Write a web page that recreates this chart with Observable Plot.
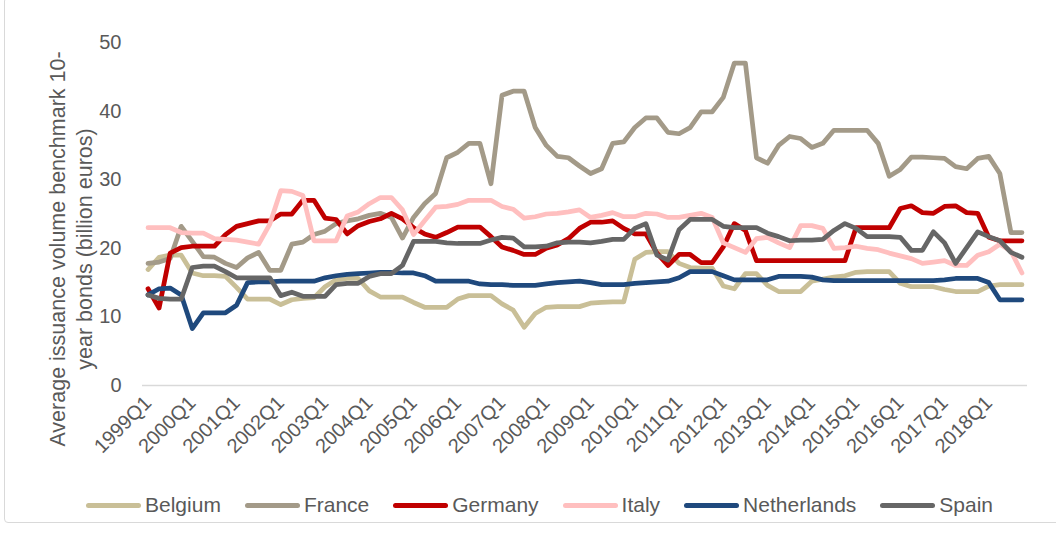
<!DOCTYPE html>
<html><head><meta charset="utf-8">
<script src="https://cdn.jsdelivr.net/npm/d3@7"></script>
<script src="https://cdn.jsdelivr.net/npm/@observablehq/plot@0.6"></script>
<style>
body{margin:0;background:#fff;font-family:"Liberation Sans",Arial,sans-serif;}
#wrap{position:relative;width:1056px;height:534px;overflow:hidden;background:#fff;}
#frame{position:absolute;left:4px;top:-3px;width:1062px;height:526px;border:1px solid #d9d9d9;border-radius:4px;box-sizing:border-box;pointer-events:none}
#legend{position:absolute;left:86px;top:492px;height:26px;display:flex;align-items:center;font-size:21px;color:#595959;white-space:nowrap}
.item{display:flex;align-items:center;margin-right:24px}
.sw{width:55px;height:5px;border-radius:3px;margin-right:4px}
</style></head><body>
<div id="wrap"><div id="chart"></div><div id="legend"></div><div id="frame"></div></div>
<script>
const countries = ["Belgium", "France", "Germany", "Italy", "Netherlands", "Spain"];
const colors = ["#c9bf97", "#a39a88", "#c00000", "#ffbfbf", "#1f497d", "#666666"];
const yTitle = "Average issuance volume benchmark 10-\nyear bonds (billion euros)";
const yTicks = [0, 10, 20, 30, 40, 50];

const belgium = [16.9,18.7,19.0,19.0,16.4,16.0,16.0,15.9,14.3,12.6,12.6,12.6,11.8,12.5,12.7,12.8,14.4,15.4,15.6,15.6,13.8,12.9,12.9,12.9,12.1,11.4,11.4,11.4,12.6,13.1,13.1,13.1,11.9,11.0,8.5,10.5,11.4,11.5,11.5,11.5,12.0,12.1,12.2,12.2,18.4,19.4,19.5,19.5,17.8,17.2,17.1,17.1,14.5,14.1,16.3,16.3,14.6,13.7,13.7,13.7,15.2,15.5,15.8,16.0,16.5,16.6,16.6,16.6,14.9,14.4,14.4,14.4,14.0,13.7,13.7,13.7,14.5,14.7,14.7,14.7];
const france = [17.8,18.0,18.5,23.2,21.0,18.8,18.7,17.8,17.2,18.6,19.4,16.8,16.8,20.6,20.9,22.0,22.5,23.6,24.0,24.3,24.8,25.1,24.5,21.5,24.5,26.5,28.0,33.2,34.0,35.3,35.3,29.4,42.3,42.9,42.9,37.6,35.0,33.4,33.2,32.0,30.9,31.6,35.3,35.5,37.6,39.0,39.0,36.9,36.7,37.6,39.9,39.9,42.0,47.0,47.0,33.2,32.4,35.0,36.3,36.0,34.7,35.3,37.2,37.2,37.2,37.2,35.3,30.5,31.5,33.3,33.3,33.2,33.1,31.9,31.6,33.1,33.4,30.9,22.3,22.3];
const germany = [14.1,11.3,19.3,20.1,20.3,20.3,20.3,22.0,23.2,23.6,24.0,24.0,25.0,25.0,27.0,27.0,24.4,24.2,22.1,23.3,23.9,24.3,25.1,24.3,23.0,22.1,21.6,22.3,23.1,23.1,23.1,21.7,20.2,19.7,19.1,19.1,20.0,20.5,21.4,22.9,23.8,23.8,24.0,22.9,22.1,22.1,19.3,17.5,19.1,19.1,17.9,17.9,20.2,23.6,22.6,18.2,18.2,18.2,18.2,18.2,18.2,18.2,18.2,18.2,23.0,23.0,23.0,23.0,25.8,26.2,25.2,25.1,26.1,26.2,25.2,25.1,21.6,21.1,21.1,21.1];
const italy = [23.0,23.0,23.0,22.3,22.2,22.2,21.4,21.3,21.2,20.9,20.6,23.5,28.4,28.3,27.7,21.1,21.1,21.1,24.7,25.3,26.5,27.4,27.4,25.6,22.0,24.0,26.0,26.1,26.4,27.0,27.0,27.0,26.1,25.7,24.4,24.6,25.0,25.1,25.3,25.6,24.5,24.8,25.2,24.6,24.6,25.1,25.0,24.5,24.5,24.8,25.1,24.5,20.8,20.1,19.4,21.4,21.6,20.8,20.1,23.3,23.3,22.9,20.0,20.1,20.3,20.0,19.8,19.3,18.9,18.5,17.8,18.0,18.2,17.5,17.5,19.0,19.5,20.6,19.6,16.4];
const netherlands = [13.2,14.1,14.2,13.2,8.3,10.6,10.6,10.6,11.7,15.0,15.1,15.1,15.2,15.2,15.2,15.2,15.7,16.0,16.2,16.3,16.4,16.5,16.5,16.4,16.4,16.0,15.2,15.2,15.2,15.2,14.8,14.7,14.7,14.6,14.6,14.6,14.8,15.0,15.1,15.2,15.0,14.7,14.7,14.7,14.9,15.0,15.1,15.2,15.7,16.6,16.6,16.6,16.0,15.4,15.4,15.4,15.4,15.9,15.9,15.9,15.8,15.4,15.3,15.3,15.3,15.3,15.3,15.3,15.3,15.3,15.3,15.3,15.4,15.6,15.6,15.6,15.0,12.5,12.5,12.5];
const spain = [13.2,12.7,12.6,12.6,17.2,17.4,17.4,16.6,15.7,15.7,15.7,15.7,13.1,13.6,13.0,13.0,13.0,14.7,14.9,14.9,15.9,16.3,16.3,17.5,21.0,21.0,21.0,20.8,20.7,20.7,20.7,21.2,21.6,21.5,20.2,20.2,20.3,20.8,20.9,20.9,20.8,21.0,21.3,21.3,22.9,23.6,19.0,18.3,22.7,24.2,24.2,24.2,23.2,23.0,23.0,23.0,22.2,21.7,21.1,21.2,21.2,21.3,22.6,23.6,22.9,21.7,21.7,21.7,21.6,19.7,19.7,22.4,20.8,17.8,20.1,22.4,21.7,21.1,19.4,18.7];

const years = d3.range(1999, 2019);
const quarters = years.flatMap(y => [1, 2, 3, 4].map(q => `${y}Q${q}`));
const tickLabels = years.map(y => `${y}Q1`);

const seriesList = [belgium, france, germany, italy, netherlands, spain];
const data = countries.flatMap((c, k) => seriesList[k].map((v, i) => ({country: c, i, quarter: quarters[i], value: v})));

const chart = Plot.plot({
  width: 1056,
  height: 470,
  marginLeft: 142,
  marginRight: 29,
  marginTop: 42,
  marginBottom: 85,
  style: {fontFamily: "'Liberation Sans', Arial, sans-serif", fontSize: "20px", color: "#595959", background: "transparent", overflow: "visible"},
  x: {type: "linear", domain: [-0.5, quarters.length - 0.5]},
  y: {domain: [0, 50]},
  color: {domain: countries, range: colors},
  marks: [
    Plot.axisY({ticks: yTicks, tickSize: 0, tickPadding: 21, label: null, fontSize: 20}),
    Plot.axisX({ticks: tickLabels.map(t => quarters.indexOf(t)), tickFormat: i => quarters[i], tickRotate: -45, tickSize: 0, tickPadding: 14, label: null, fontSize: 20}),
    Plot.ruleY([0], {stroke: "#d9d9d9", strokeWidth: 1.5}),
    Plot.line(data, {x: "i", y: "value", stroke: "country", z: "country", strokeWidth: 4.75, strokeLinejoin: "round", strokeLinecap: "round"}),
    Plot.text([yTitle], {frameAnchor: "left", textAnchor: "middle", lineAnchor: "middle", rotate: -90, dx: -73, dy: 35, lineHeight: 1.25, fontSize: 21.5, fill: "#595959"})
  ]
});
document.getElementById("chart").appendChild(chart);

const legend = document.getElementById("legend");
countries.forEach((c, k) => {
  const item = document.createElement("div");
  item.className = "item";
  const sw = document.createElement("span");
  sw.className = "sw";
  sw.style.background = colors[k];
  const tx = document.createElement("span");
  tx.textContent = c;
  item.appendChild(sw);
  item.appendChild(tx);
  legend.appendChild(item);
});
</script>
</body></html>
